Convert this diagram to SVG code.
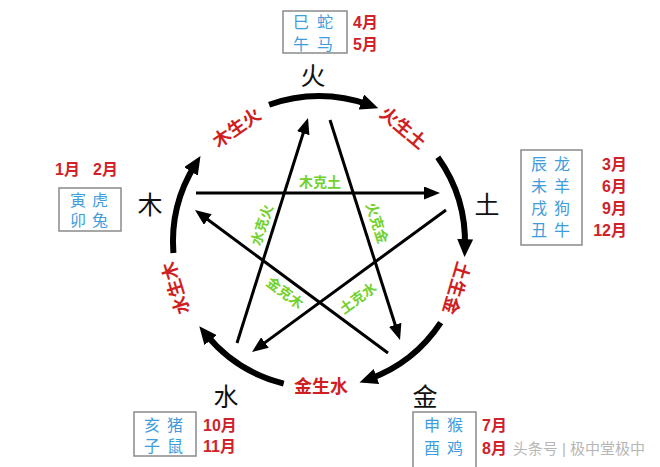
<svg xmlns="http://www.w3.org/2000/svg" width="660" height="467" viewBox="0 0 660 467">
<style>
text{font-family:"Liberation Sans","Noto Sans CJK SC",sans-serif}
.el{font-size:25px;fill:#111;text-anchor:middle;dominant-baseline:central}
.sheng{font-size:18px;font-weight:bold;fill:#d01f1f;text-anchor:middle;dominant-baseline:central}
.ke{font-size:14px;font-weight:bold;fill:#72d12c;text-anchor:middle;dominant-baseline:central}
.zod{font-size:16px;fill:#3f9ddb;text-anchor:middle;dominant-baseline:central}
.mon{font-size:16px;font-weight:bold;fill:#d0222a;dominant-baseline:central}
.box{fill:#fff;stroke:#8a8a8a;stroke-width:1.5}
.arc{fill:none;stroke:#000;stroke-width:6;marker-end:url(#big)}
.line{fill:none;stroke:#000;stroke-width:3;marker-end:url(#small)}
</style>
<defs>
<marker id="big" markerUnits="userSpaceOnUse" markerWidth="18" markerHeight="16" refX="8" refY="8" orient="auto">
<path d="M0,0 L18,8 L0,16 z" fill="#000"/>
</marker>
<marker id="small" markerUnits="userSpaceOnUse" markerWidth="16" markerHeight="13" refX="6" refY="6.5" orient="auto">
<path d="M0,0 L16,6.5 L0,13 z" fill="#000"/>
</marker>
</defs>
<rect width="660" height="467" fill="#fff"/>
<g id="connectors">
<path class="arc" d="M173.4,253 A146,146 0 0 1 195.2,164.6"/>
<path class="arc" d="M269.1,104.8 A146,146 0 0 1 368.9,104.8"/>
<path class="arc" d="M437.8,157.2 A146,146 0 0 1 464.9,247.1"/>
<path class="arc" d="M440.7,322.6 A146,146 0 0 1 368.9,379.2"/>
<path class="arc" d="M283.7,383.6 A146,146 0 0 1 205.6,333.9"/>
<path class="line" d="M196,193 L430,193"/>
<path class="line" d="M237,343 L305,127.5"/>
<path class="line" d="M330,120 L397,330.5"/>
<path class="line" d="M388,353 L203,216"/>
<path class="line" d="M446,210 L260.1,346.1"/>
<text class="sheng" transform="translate(237,128) rotate(-35)">木生火</text>
<text class="sheng" transform="translate(403,128) rotate(40)">火生土</text>
<text class="sheng" transform="translate(456,288) rotate(106)">土生金</text>
<text class="sheng" x="321" y="387">金生水</text>
<text class="sheng" transform="translate(176,288) rotate(-107)">水生木</text>
<text class="ke" x="320" y="182">木克土</text>
<text class="ke" transform="translate(262,225) rotate(-72)">水克火</text>
<text class="ke" transform="translate(377,223) rotate(72)">火克金</text>
<text class="ke" transform="translate(285,293) rotate(37)">金克木</text>
<text class="ke" transform="translate(358,298) rotate(-36)">土克水</text>
</g>
<g id="fire">
<text class="el" x="313" y="76">火</text>
<rect class="box" x="283" y="11" width="64" height="42"/>
<text class="zod" x="301 325" y="22">巳蛇</text>
<text class="zod" x="301 325" y="44">午马</text>
<text class="mon" x="353" y="22">4月</text>
<text class="mon" x="353" y="44">5月</text>
</g>
<g id="wood">
<text class="el" x="150" y="205">木</text>
<text class="mon" x="55" y="169">1月</text>
<text class="mon" x="93" y="169">2月</text>
<rect class="box" x="59" y="188" width="62" height="43"/>
<text class="zod" x="78 100" y="200">寅虎</text>
<text class="zod" x="78 100" y="220">卯兔</text>
</g>
<g id="earth">
<text class="el" x="487" y="205">土</text>
<rect class="box" x="521" y="150" width="61" height="95"/>
<text class="zod" x="539 562" y="164">辰龙</text>
<text class="zod" x="539 562" y="186">未羊</text>
<text class="zod" x="539 562" y="208">戌狗</text>
<text class="zod" x="539 562" y="230">丑牛</text>
<text class="mon" x="627" y="164" text-anchor="end">3月</text>
<text class="mon" x="627" y="186" text-anchor="end">6月</text>
<text class="mon" x="627" y="208" text-anchor="end">9月</text>
<text class="mon" x="627" y="230" text-anchor="end">12月</text>
</g>
<g id="water">
<text class="el" x="226" y="397">水</text>
<rect class="box" x="134" y="412" width="62" height="44"/>
<text class="zod" x="152 175" y="425">亥猪</text>
<text class="zod" x="152 175" y="446">子鼠</text>
<text class="mon" x="203" y="425">10月</text>
<text class="mon" x="203" y="446">11月</text>
</g>
<g id="metal">
<text class="el" x="425" y="397">金</text>
<rect class="box" x="413" y="412" width="63" height="70"/>
<text class="zod" x="432 455" y="425">申猴</text>
<text class="zod" x="432 455" y="448">酉鸡</text>
<text class="mon" x="482" y="425">7月</text>
<text class="mon" x="482" y="448">8月</text>
<text x="645" y="448" text-anchor="end" dominant-baseline="central" style="font-size:15px;fill:#a5a5a5;opacity:0.8">头条号 | 极中堂极中</text>
</g>
</svg>
